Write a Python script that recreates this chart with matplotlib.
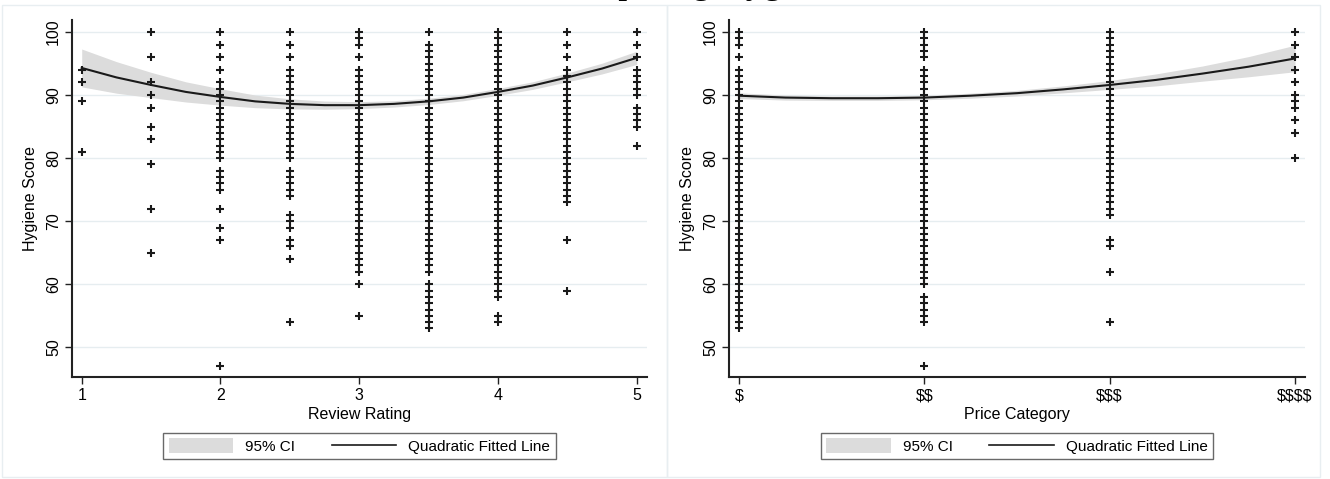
import numpy as np
import matplotlib
matplotlib.use("Agg")
import matplotlib.pyplot as plt
from matplotlib.patches import Patch, Rectangle
from matplotlib.lines import Line2D

plt.rcParams['font.family'] = ['Liberation Sans', 'DejaVu Sans']
plt.rcParams['text.parse_math'] = False

# --- left panel: hygiene score by review rating
rating_levels = [1, 1.5, 2, 2.5, 3, 3.5, 4, 4.5, 5]
scores_by_rating = [
    [94, 92, 89, 81],
    [100, 96, 92, 90, 88, 85, 83, 79, 72, 65],
    [100, 98, 96, 94, 92, 91, 90, 89, 88, 87, 86, 85, 84, 83, 82, 81, 80, 78,
     77, 76, 75, 72, 69, 67, 47],
    [100, 98, 96, 94, 93, 92, 91, 90, 89, 88, 87, 86, 85, 84, 83, 82, 81, 80,
     78, 77, 76, 75, 74, 71, 70, 69, 67, 66, 64, 54],
    [100, 99, 98, 96, 94, 93, 92, 91, 90, 89, 88, 87, 86, 85, 84, 83, 82, 81,
     80, 79, 78, 77, 76, 75, 74, 73, 72, 71, 70, 69, 68, 67, 66, 65, 64, 63,
     62, 60, 55],
    [100, 98, 97, 96, 95, 94, 93, 92, 91, 90, 89, 88, 87, 86, 85, 84, 83, 82,
     81, 80, 79, 78, 77, 76, 75, 74, 73, 72, 71, 70, 69, 68, 67, 66, 65, 64,
     63, 62, 60, 59, 58, 57, 56, 55, 54, 53],
    [100, 99, 98, 97, 96, 95, 94, 93, 92, 91, 90, 89, 88, 87, 86, 85, 84, 83,
     82, 81, 80, 79, 78, 77, 76, 75, 74, 73, 72, 71, 70, 69, 68, 67, 66, 65,
     64, 63, 62, 61, 60, 59, 58, 55, 54],
    [100, 98, 96, 94, 93, 92, 91, 90, 89, 88, 87, 86, 85, 84, 83, 82, 81, 80,
     79, 78, 77, 76, 75, 74, 73, 67, 59],
    [100, 98, 96, 94, 93, 92, 91, 90, 88, 87, 86, 85, 82],
]
rating_fit_x = [1, 1.25, 1.5, 1.75, 2, 2.25, 2.5, 2.75, 3, 3.25, 3.5, 3.75, 4,
                4.25, 4.5, 4.75, 5]
rating_fit_y = [94.3, 92.8, 91.6, 90.5, 89.7, 89.0, 88.6, 88.4, 88.4, 88.6,
                89.0, 89.6, 90.5, 91.5, 92.8, 94.2, 95.9]
rating_ci_half = [3.0, 2.5, 2.0, 1.6, 1.3, 1.0, 0.8, 0.65, 0.55, 0.5, 0.5, 0.5,
                  0.55, 0.6, 0.7, 0.85, 1.05]

# --- right panel: hygiene score by price category
price_levels = [1, 2, 3, 4]
price_labels = ['$', '$$', '$$$', '$$$$']
scores_by_price = [
    [100, 99, 98, 96, 94, 93, 92, 91, 90, 89, 88, 87, 86, 85, 84, 83, 82, 81,
     80, 79, 78, 77, 76, 75, 74, 73, 72, 71, 70, 69, 68, 67, 66, 65, 64, 63,
     62, 61, 60, 59, 58, 57, 56, 55, 54, 53],
    [100, 99, 98, 97, 96, 94, 93, 92, 91, 90, 89, 88, 87, 86, 85, 84, 83, 82,
     81, 80, 79, 78, 77, 76, 75, 74, 73, 72, 71, 70, 69, 68, 67, 66, 65, 64,
     63, 62, 61, 60, 58, 57, 56, 55, 54, 47],
    [100, 99, 98, 97, 96, 95, 94, 93, 92, 91, 90, 89, 88, 87, 86, 85, 84, 83,
     82, 81, 80, 79, 78, 77, 76, 75, 74, 73, 72, 71, 67, 66, 62, 54],
    [100, 98, 96, 94, 92, 90, 89, 88, 86, 84, 80],
]
price_fit_x = [1, 1.25, 1.5, 1.75, 2, 2.25, 2.5, 2.75, 3, 3.25, 3.5, 3.75, 4]
price_fit_y = [89.9, 89.6, 89.5, 89.5, 89.6, 89.9, 90.3, 90.9, 91.6, 92.4,
               93.4, 94.5, 95.8]
price_ci_half = [0.45, 0.4, 0.35, 0.35, 0.35, 0.4, 0.45, 0.55, 0.7, 0.95, 1.2,
                 1.6, 2.1]

W, H = 1330, 479
GRID = '#e6edf0'
BAND = '#dcdcdc'
INK = '#1a1a1a'
FS = 11.5


def draw_panel(ax, levels, groups, fit_x, fit_y, ci_half, xlim, xticks,
               xticklabels, xlabel):
    ax.set_axisbelow(True)
    for lvl, vals in zip(levels, groups):
        ax.plot([lvl] * len(vals), vals, linestyle='none', marker='+',
                markersize=5.5, markeredgewidth=1.5, color=INK, zorder=3)
    fy = np.array(fit_y)
    hw = np.array(ci_half)
    ax.fill_between(fit_x, fy - hw, fy + hw, color=BAND, lw=0, zorder=2)
    ax.plot(fit_x, fy, color=INK, lw=1.5, zorder=4)

    ax.set_xlim(*xlim)
    ax.set_ylim(45.3, 101.9)
    ax.set_yticks([50, 60, 70, 80, 90, 100])
    ax.set_xticks(xticks)
    ax.set_xticklabels(xticklabels)
    ax.grid(axis='y', color=GRID, lw=1)
    ax.grid(axis='x', visible=False)
    for s in ['top', 'right']:
        ax.spines[s].set_visible(False)
    for s in ['left', 'bottom']:
        ax.spines[s].set_linewidth(1.5)
        ax.spines[s].set_color('#222222')
    ax.tick_params(direction='out', length=5, width=1, colors='#222222',
                   labelsize=FS, labelcolor='black')
    ax.tick_params(axis='y', pad=3)
    ax.tick_params(axis='x', pad=3)
    for lab in ax.get_yticklabels():
        lab.set_rotation(90)
        lab.set_va('center')
    ax.set_ylabel('Hygiene Score', fontsize=FS)
    # fixed position left of the rotated tick labels
    ax.yaxis.set_label_coords(-34 / 575, 0.5)
    ax.set_xlabel(xlabel, fontsize=FS, labelpad=3)


fig = plt.figure(figsize=(W / 100, H / 100), dpi=100)

ax1 = fig.add_axes([72 / W, 102 / H, 575 / W, 357 / H])
draw_panel(ax1, rating_levels, scores_by_rating, rating_fit_x, rating_fit_y,
           rating_ci_half, (0.930, 5.074), [1, 2, 3, 4, 5],
           ['1', '2', '3', '4', '5'], 'Review Rating')

ax2 = fig.add_axes([729 / W, 102 / H, 576 / W, 357 / H])
draw_panel(ax2, price_levels, scores_by_price, price_fit_x, price_fit_y,
           price_ci_half, (0.946, 4.054), price_levels, price_labels,
           'Price Category')

# panel outlines
for x0, x1 in [(2, 667), (667, 1320)]:
    fig.add_artist(Rectangle((x0 / W, 2 / H), (x1 - x0) / W, 472 / H,
                             transform=fig.transFigure, fill=False,
                             edgecolor='#e8eef1', lw=1))

handles = [Patch(facecolor=BAND, edgecolor='none', label='95% CI'),
           Line2D([], [], color=INK, lw=1.2, label='Quadratic Fitted Line')]
for cx in [359.5 / W, 1017 / W]:
    leg = fig.legend(handles=handles, loc='center', bbox_to_anchor=(cx, 33 / H),
                     ncol=2, fontsize=11, frameon=True, fancybox=False,
                     edgecolor='#444444', handlelength=4.2, handleheight=1.1,
                     columnspacing=2.4, borderpad=0.35, handletextpad=0.8,
                     borderaxespad=0)
    leg.get_frame().set_linewidth(1)

# title, mostly cut off by the top edge
fig.text(548 / W, 1 + 7 / H, 'Comparing Hygiene Scores', ha='left',
         va='baseline', fontsize=26, family=['Liberation Serif', 'DejaVu Serif'])

fig.savefig('out.png', dpi=100)
